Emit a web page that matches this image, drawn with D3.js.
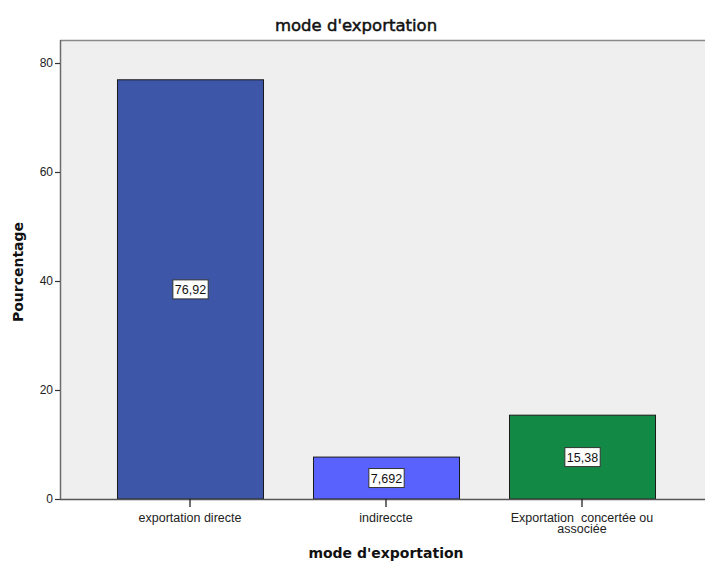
<!DOCTYPE html>
<html>
<head>
<meta charset="utf-8">
<script src="https://cdn.jsdelivr.net/npm/d3@7"></script>
<style>
  html, body { margin: 0; padding: 0; background: #ffffff; }
  svg { display: block; font-family: "Liberation Sans", Arial, sans-serif; }
</style>
</head>
<body>
<svg id="chart" width="705" height="561"></svg>
<script>
// Export mode distribution (percent)
const categories = [
  ["exportation directe"],
  ["indireccte"],
  ["Exportation  concertée ou", "associée"]
];
const values = [76.92, 7.692, 15.38];
const valueLabels = ["76,92", "7,692", "15,38"];
const barColors = ["#3d56a8", "#5a62fd", "#128a45"];
const yTicks = [0, 20, 40, 60, 80];

const svg = d3.select("#chart");
const plot = { left: 60, top: 40, right: 760, bottom: 499 };

const keys = categories.map((c, i) => i);
const x = d3.scaleBand()
  .domain(keys)
  .range([92, 680])
  .paddingInner(0.255)
  .paddingOuter(0.1275);

const y = d3.scaleLinear()
  .domain([0, 80])
  .range([plot.bottom, 63]);

// plot background
svg.append("rect")
  .attr("x", plot.left).attr("y", plot.top)
  .attr("width", plot.right - plot.left).attr("height", plot.bottom - plot.top)
  .attr("fill", "#efefef");

// frame: top edge
svg.append("line")
  .attr("x1", plot.left).attr("x2", plot.right)
  .attr("y1", plot.top + 0.5).attr("y2", plot.top + 0.5)
  .attr("stroke", "#8a8a8a").attr("stroke-width", 1.5);

// bars
svg.append("g").selectAll("rect")
  .data(values)
  .join("rect")
  .attr("x", (d, i) => x(i) + 0.5)
  .attr("y", d => y(d))
  .attr("width", x.bandwidth())
  .attr("height", d => y(0) - y(d))
  .attr("fill", (d, i) => barColors[i])
  .attr("stroke", "#1a1a1a")
  .attr("stroke-width", 1);

// value labels inside bars
const labels = svg.append("g").selectAll("g")
  .data(values)
  .join("g")
  .attr("transform", (d, i) => `translate(${x(i) + x.bandwidth() / 2 + 0.5},${y(d / 2)})`);
labels.append("text")
  .attr("text-anchor", "middle")
  .attr("dy", "0.36em")
  .attr("font-size", 12.5)
  .attr("fill", "#111")
  .text((d, i) => valueLabels[i]);
labels.each(function () {
  const g = d3.select(this);
  const bb = g.select("text").node().getBBox();
  g.insert("rect", "text")
    .attr("x", bb.x - 2).attr("y", -9.5)
    .attr("width", bb.width + 4).attr("height", 19)
    .attr("fill", "#ffffff")
    .attr("stroke", "#333")
    .attr("stroke-width", 1);
});

// y axis
const yAxis = svg.append("g")
  .attr("transform", `translate(${plot.left},0)`)
  .call(d3.axisLeft(y).tickValues(yTicks).tickSize(5).tickPadding(2));
yAxis.select(".domain")
  .attr("d", `M0.5,${plot.top}V${plot.bottom}`)
  .attr("stroke", "#6b6b6b").attr("stroke-width", 1.5);
yAxis.selectAll(".tick line").attr("stroke", "#333").attr("stroke-width", 1.2);
yAxis.selectAll(".tick text").attr("font-size", 12).attr("fill", "#222")
  .attr("font-family", "'Liberation Sans', Arial, sans-serif");

// x axis
const xAxis = svg.append("g")
  .attr("transform", `translate(0,${plot.bottom})`)
  .call(d3.axisBottom(x).tickSize(8).tickFormat(() => ""));
xAxis.select(".domain")
  .attr("d", `M${plot.left},0.5H${plot.right}`)
  .attr("stroke", "#555").attr("stroke-width", 1.5);
xAxis.selectAll(".tick line").attr("stroke", "#222").attr("stroke-width", 1.3);
xAxis.selectAll(".tick").each(function (d) {
  const t = d3.select(this).append("text")
    .attr("text-anchor", "middle")
    .attr("font-size", 12.5)
    .attr("fill", "#222")
    .style("white-space", "pre")
    .attr("font-family", "'Liberation Sans', Arial, sans-serif");
  categories[d].forEach((line, j) => {
    t.append("tspan").attr("x", 0).attr("y", 23 + j * 11).text(line);
  });
});

// titles
svg.append("text")
  .attr("x", 356).attr("y", 31)
  .attr("text-anchor", "middle")
  .attr("font-family", "'DejaVu Sans', sans-serif")
  .attr("font-size", 16.5)
  .attr("fill", "#111")
  .attr("stroke", "#111").attr("stroke-width", 0.5)
  .text("mode d'exportation");

svg.append("text")
  .attr("x", 386).attr("y", 558)
  .attr("text-anchor", "middle")
  .attr("font-family", "'DejaVu Sans', sans-serif")
  .attr("font-size", 14).attr("font-weight", "bold")
  .attr("fill", "#111")
  .text("mode d'exportation");

svg.append("text")
  .attr("transform", "translate(23,272) rotate(-90)")
  .attr("text-anchor", "middle")
  .attr("font-family", "'DejaVu Sans', sans-serif")
  .attr("font-size", 14).attr("font-weight", "bold")
  .attr("fill", "#111")
  .text("Pourcentage");
</script>
</body>
</html>
